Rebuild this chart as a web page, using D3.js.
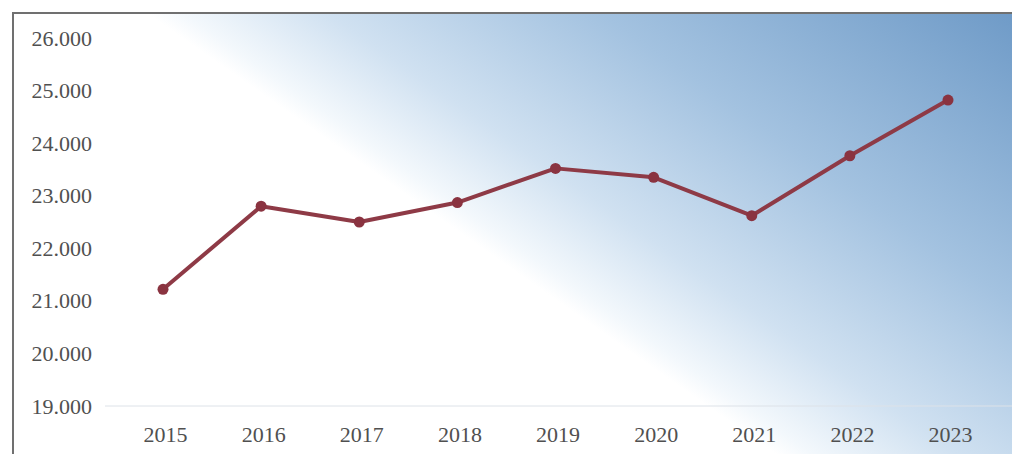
<!DOCTYPE html>
<html>
<head>
<meta charset="utf-8">
<script src="https://cdn.jsdelivr.net/npm/d3@7/dist/d3.min.js"></script>
<style>
  html, body { margin: 0; padding: 0; background: #fff; }
  svg { display: block; }
</style>
</head>
<body>
<svg id="chart" width="1012" height="454"></svg>
<script>
// Yearly values
const years = ["2015", "2016", "2017", "2018", "2019", "2020", "2021", "2022", "2023"];
const values = [21220, 22800, 22500, 22870, 23520, 23350, 22620, 23760, 24820];
const yTicks = [19000, 20000, 21000, 22000, 23000, 24000, 25000, 26000];

const svg = d3.select("#chart");
const W = 1012, H = 454;

// Diagonal sky-blue background fading to white towards the lower left
const defs = svg.append("defs");
const grad = defs.append("linearGradient")
  .attr("id", "bg")
  .attr("gradientUnits", "userSpaceOnUse")
  .attr("x1", 185).attr("y1", 40)
  .attr("x2", 185 + 0.574 * 520).attr("y2", 40 - 0.819 * 520);
[[0, "#ffffff"], [0.04, "#f3f8fc"], [0.2, "#d0e1f1"], [0.5, "#a3c2e0"], [1, "#6a97c5"]]
  .forEach(([o, c]) => grad.append("stop").attr("offset", o).attr("stop-color", c));

svg.append("rect")
  .attr("x", 12).attr("y", 12)
  .attr("width", W - 12).attr("height", H - 12)
  .attr("fill", "url(#bg)");

// Frame edges (left and top)
svg.append("path")
  .attr("d", `M13,${H} L13,13 L${W},13`)
  .attr("fill", "none")
  .attr("stroke", "#707070")
  .attr("stroke-width", 2);

const x = d3.scalePoint().domain(years).range([163, 948]);
const y = d3.scaleLinear().domain([19000, 26000]).range([406, 38]);

const locale = d3.formatLocale({ decimal: ",", thousands: ".", grouping: [3], currency: ["", ""] });
const fmt = locale.format(",d");

// Baseline
svg.append("line")
  .attr("x1", 105).attr("x2", W)
  .attr("y1", y(19000)).attr("y2", y(19000))
  .attr("stroke", "#dde2e8")
  .attr("stroke-width", 1);

// Y axis labels
const yAxis = svg.append("g")
  .attr("transform", "translate(92,0)")
  .call(d3.axisLeft(y).tickValues(yTicks).tickFormat(fmt).tickSize(0).tickPadding(0));
yAxis.select(".domain").remove();
yAxis.selectAll("text")
  .attr("font-family", "'Liberation Serif', 'DejaVu Serif', serif")
  .attr("font-size", 22)
  .attr("fill", "#505050");

// X axis labels
const xAxis = svg.append("g")
  .attr("transform", "translate(2,426)")
  .call(d3.axisBottom(x).tickSize(0).tickPadding(0));
xAxis.select(".domain").remove();
xAxis.selectAll("text")
  .attr("font-family", "'Liberation Serif', 'DejaVu Serif', serif")
  .attr("font-size", 22)
  .attr("fill", "#505050");

// Series line
const line = d3.line()
  .x((d, i) => x(years[i]))
  .y(d => y(d));

svg.append("path")
  .datum(values)
  .attr("d", line)
  .attr("fill", "none")
  .attr("stroke", "#8e3a46")
  .attr("stroke-width", 4)
  .attr("stroke-linejoin", "round");

svg.selectAll("circle.pt")
  .data(values)
  .join("circle")
  .attr("class", "pt")
  .attr("cx", (d, i) => x(years[i]))
  .attr("cy", d => y(d))
  .attr("r", 5.5)
  .attr("fill", "#8a3340");
</script>
</body>
</html>
